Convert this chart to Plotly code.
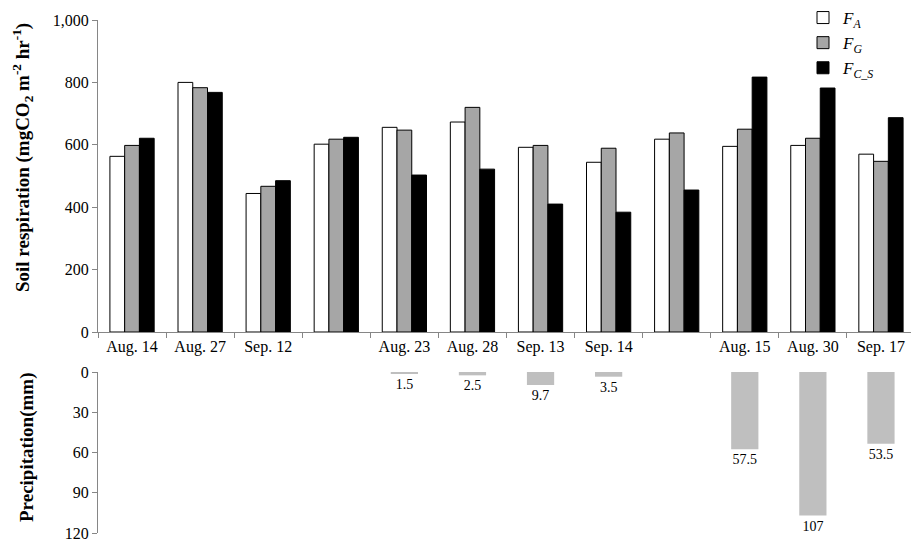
import plotly.graph_objects as go

categories = ["Aug. 14", "Aug. 27", "Sep. 12", " ", "Aug. 23", "Aug. 28",
              "Sep. 13", "Sep. 14", "  ", "Aug. 15", "Aug. 30", "Sep. 17"]
f_a = [563, 800, 444, 602, 656, 673, 592, 544, 618, 595, 598, 570]
f_g = [598, 783, 467, 618, 647, 720, 598, 589, 638, 650, 621, 547]
f_cs = [621, 768, 485, 624, 503, 522, 410, 384, 455, 817, 782, 687]
precip = [None, None, None, None, 1.5, 2.5, 9.7, 3.5, None, 57.5, 107, 53.5]
precip_labels = ["" if v is None else ("%g" % v) for v in precip]
y1_ticks = [0, 200, 400, 600, 800, 1000]
y1_ticktext = ["0", "200", "400", "600", "800", "1,000"]
y2_ticks = [0, 30, 60, 90, 120]

FONT = "Liberation Serif, Times New Roman, serif"
AXC = "#868686"

# page body has an 8px margin; compensate so plot lands at reference pixels
OFF = 8
W, H = 919 - OFF, 555 - OFF
L, R, T, B = 98 - OFF, 919 - 915, 20 - OFF, 555 - 533
PH = H - T - B  # plot height in px (513)
PW = W - L - R


def py(pix):  # reference pixel y -> paper y
    return (533 - pix) / PH


def px(pix):  # reference pixel x -> paper x
    return (pix - 98) / PW


fig = go.Figure()
fig.add_trace(go.Bar(x=categories, y=f_a, name="<i>F</i><sub><i>A</i></sub>",
                     marker=dict(color="white", line=dict(color="black", width=1)),
                     xaxis="x", yaxis="y"))
fig.add_trace(go.Bar(x=categories, y=f_g, name="<i>F</i><sub><i>G</i></sub>",
                     marker=dict(color="#A6A6A6", line=dict(color="black", width=1)),
                     xaxis="x", yaxis="y"))
fig.add_trace(go.Bar(x=categories, y=f_cs, name="<i>F</i><sub><i>C_S</i></sub>",
                     marker=dict(color="black", line=dict(color="black", width=1)),
                     xaxis="x", yaxis="y"))
fig.add_trace(go.Bar(x=categories, y=precip, text=precip_labels, textposition="outside",
                     cliponaxis=False, width=0.4, showlegend=False,
                     textfont=dict(family=FONT, size=14, color="black"),
                     marker=dict(color="#BFBFBF", line=dict(width=0)),
                     xaxis="x2", yaxis="y2"))

fig.update_layout(
    width=W, height=H,
    margin=dict(l=L, r=R, t=T, b=B, autoexpand=False),
    paper_bgcolor="white", plot_bgcolor="white",
    font=dict(family=FONT, size=16, color="black"),
    barmode="group", bargap=0.35, bargroupgap=0,
    xaxis=dict(domain=[0, 1], anchor="y", type="category", tickson="boundaries",
               showline=True, linecolor=AXC, linewidth=1, ticks="outside",
               tickcolor=AXC, ticklen=5, showgrid=False, range=[-0.5, 11.5],
               tickfont=dict(family=FONT, size=16, color="black")),
    yaxis=dict(domain=[py(332), 1], anchor="x", range=[0, 1000],
               tickvals=y1_ticks, ticktext=y1_ticktext,
               showline=True, linecolor=AXC, linewidth=1, ticks="outside",
               tickcolor=AXC, ticklen=5, showgrid=False, zeroline=False,
               tickfont=dict(family=FONT, size=16, color="black")),
    xaxis2=dict(domain=[0, 1], anchor="y2", type="category", range=[-0.5, 11.5],
                showline=False, showticklabels=False, ticks="", showgrid=False),
    yaxis2=dict(domain=[0, py(372)], anchor="x2", range=[120, 0],
                tickvals=y2_ticks,
                showline=True, linecolor=AXC, linewidth=1, ticks="outside",
                tickcolor=AXC, ticklen=5, showgrid=False, zeroline=False,
                tickfont=dict(family=FONT, size=16, color="black")),
    legend=dict(x=px(803), y=py(0), xanchor="left", yanchor="top",
                bgcolor="rgba(0,0,0,0)", font=dict(family=FONT, size=17),
                tracegroupgap=0, itemwidth=30),
    annotations=[
        dict(text="<b>Soil respiration (mgCO<sub>2</sub> m<sup>-2</sup> hr<sup>-1</sup>)</b>",
             xref="paper", yref="paper", x=px(22), y=py(158),
             textangle=-90, showarrow=False, xanchor="center", yanchor="middle",
             font=dict(family=FONT, size=19, color="black")),
        dict(text="<b>Precipitation(mm)</b>",
             xref="paper", yref="paper", x=px(27), y=py(447),
             textangle=-90, showarrow=False, xanchor="center", yanchor="middle",
             font=dict(family=FONT, size=19, color="black")),
    ],
)

fig.write_html("out.html")
